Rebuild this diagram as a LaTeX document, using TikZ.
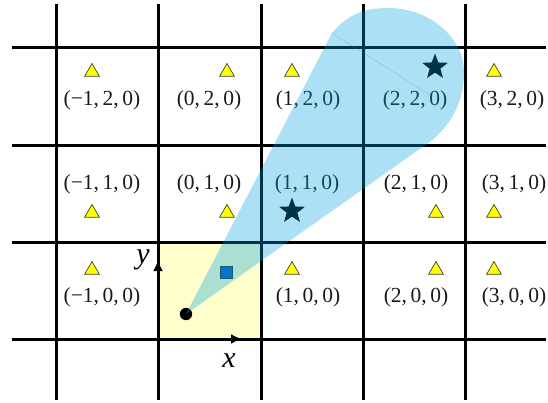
\documentclass[tikz,border=0pt]{standalone}
\usepackage{fontspec}
\setmainfont{Liberation Serif}
\usepackage[dvipsnames]{xcolor}
\definecolor{cellyel}{HTML}{FFFFCC}
\definecolor{triyel}{HTML}{FFFF00}
\definecolor{conec}{HTML}{00A0E1}
\definecolor{sqblue}{HTML}{0064BE}
\definecolor{ink}{HTML}{1A1A1A}
\usepackage{tikz}
\usetikzlibrary{arrows.meta,shapes.geometric}
\tikzset{
  >={Latex[length=11pt,width=10pt]},
  gridln/.style={draw=black,line width=3pt},
  tri/.style={regular polygon,regular polygon sides=3,fill=triyel,draw=black!75,line width=0.7pt,inner sep=0pt,minimum size=17pt},
  starm/.style={star,star points=5,star point ratio=2.4,fill=black,inner sep=0pt,minimum size=27pt},
  sqm/.style={rectangle,fill=sqblue,draw=black!80,line width=0.7pt,inner sep=0pt,minimum size=12pt},
  lab/.style={font=\fontsize{21.5}{24}\selectfont,text=ink,inner sep=0pt},
  axl/.style={font=\fontsize{30}{32}\selectfont\itshape,inner sep=0pt},
  axarr/.style={->,draw=black,line width=3pt},
  cone/.style={fill=conec,fill opacity=0.33},
}

\begin{document}
\begin{tikzpicture}[x=1pt,y=-1pt]
\useasboundingbox (0,0) rectangle (548,403);
% Home cell
\fill[cellyel] (158,242) rectangle (261,339);
% Grid
\draw[gridln] (56,4) -- (56,400);
\draw[gridln] (158,4) -- (158,400);
\draw[gridln] (261,4) -- (261,400);
\draw[gridln] (363,4) -- (363,400);
\draw[gridln] (465,4) -- (465,400);
\draw[gridln] (12,48) -- (546,48);
\draw[gridln] (12,146) -- (546,146);
\draw[gridln] (12,242) -- (546,242);
\draw[gridln] (12,339) -- (546,339);
% Row y=2
\node[tri] (tm12) at (92,72) {};
\node[tri] (t02) at (227,72) {};
\node[tri] (t12) at (292,72) {};
\node[starm] (s22) at (435,67) {};
\node[tri] (t32) at (494,72) {};
\node[lab] (lm12) at (102,100) {(−1,\,2,\,0)};
\node[lab] (l02) at (209,100) {(0,\,2,\,0)};
\node[lab] (l12) at (308,100) {(1,\,2,\,0)};
\node[lab] (l22) at (415,100) {(2,\,2,\,0)};
\node[lab] (l32) at (512,100) {(3,\,2,\,0)};
% Row y=1
\node[lab] (lm11) at (102,184) {(−1,\,1,\,0)};
\node[lab] (l01) at (209,184) {(0,\,1,\,0)};
\node[lab] (l11) at (307,184) {(1,\,1,\,0)};
\node[lab] (l21) at (416,184) {(2,\,1,\,0)};
\node[lab] (l31) at (514,184) {(3,\,1,\,0)};
\node[tri] (tm11) at (92,213) {};
\node[tri] (t01) at (227,213) {};
\node[starm] (s11) at (292,211) {};
\node[tri] (t21) at (436,213) {};
\node[tri] (t31) at (494,213) {};
% Row y=0
\node[tri] (tm10) at (92,270) {};
\node[sqm] (sq) at (226,272) {};
\node[tri] (t10) at (292,270) {};
\node[tri] (t20) at (436,270) {};
\node[tri] (t30) at (494,270) {};
\node[lab] (lm10) at (102,297) {(−1,\,0,\,0)};
\node[lab] (l10) at (308,297) {(1,\,0,\,0)};
\node[lab] (l20) at (416,297) {(2,\,0,\,0)};
\node[lab] (l30) at (514,297) {(3,\,0,\,0)};
% Source point and axes
\fill[black] (186,314) circle (6.2) coordinate (src);
\coordinate (o) at (158,339);
\coordinate (xt) at (242,339);
\coordinate (yt) at (158,260);
\draw[axarr] (o) -- (xt);
\draw[axarr] (o) -- (yt);
\node[axl] (xl) at (229,361) {x};
\node[axl] (yl) at (143,260) {y};
% Cone
\fill[cone] (src) -- (332,33) .. controls (348,14) and (365,8) .. (388,8)
  .. controls (430,8) and (464,38) .. (464,72)
  .. controls (464,105) and (448,130) .. (424,146) -- cycle;
\draw[conec,opacity=0.25,line width=0.7pt] (332,33) -- (433,97);
\end{tikzpicture}
\end{document}
